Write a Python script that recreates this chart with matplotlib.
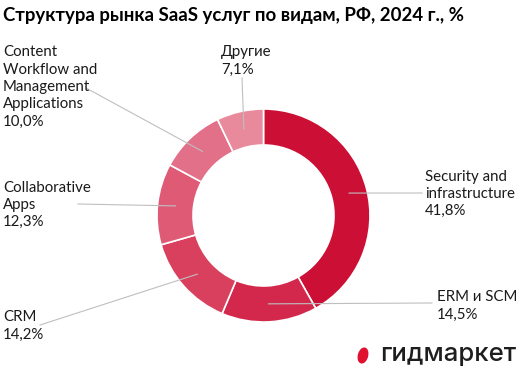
import matplotlib.pyplot as plt
import numpy as np
from matplotlib.patches import Ellipse

# Data
labels = ["Security and\ninfrastructure", "ERM и SCM", "CRM", "Collaborative\nApps",
          "Content\nWorkflow and\nManagement\nApplications", "Другие"]
values = [41.8, 14.5, 14.2, 12.3, 10.0, 7.1]
colors = ["#CC0F35", "#D3284B", "#D9405E", "#DE5A75", "#E37089", "#E98A9C"]

# label block anchor (left x, centre y) in pixel coords, y from top
label_pos = [(425, 194), (437, 306), (3, 326), (3, 205), (3, 87), (221, 61)]
# where each leader line ends
leader_end = [(422, 193), (432, 303), (40, 325), (78, 204), (86, 88), (242, 78)]

W, H = 520, 366
fig = plt.figure(figsize=(W / 100, H / 100), dpi=100)
ax = fig.add_axes([0, 0, 1, 1])

cx, cy, R = 263.5, H - 215.5, 106.5
ring = 36
ax.pie(values, colors=colors, startangle=90, counterclock=False,
       center=(cx, cy), radius=R, frame=True,
       wedgeprops=dict(width=ring, edgecolor="white", linewidth=1.2))
ax.set_xlim(0, W)
ax.set_ylim(0, H)
ax.set_aspect("equal")
ax.axis("off")

font = "Lato"
total = sum(values)
cum = 0
rm = R - ring / 2
for lab, v, (lx, ly), (ex, ey) in zip(labels, values, label_pos, leader_end):
    mid = np.deg2rad(90 - (cum + v / 2) / total * 360)
    cum += v
    sx, sy = cx + rm * np.cos(mid), cy + rm * np.sin(mid)
    ax.plot([sx, ex], [sy, H - ey], color="#BFBFBF", lw=0.8, zorder=3)
    txt = lab + "\n" + f"{v:.1f}".replace(".", ",") + "%"
    ax.text(lx, H - ly, txt, ha="left", va="center", fontsize=10.8,
            family=font, color="#1A1A1A", linespacing=1.3)

ax.text(3, H - 16, "Структура рынка SaaS услуг по видам, РФ, 2024 г., %",
        ha="left", va="center", fontsize=13.4, fontweight="bold",
        family=font, color="#000000")

# logo
ax.add_patch(Ellipse((363, H - 355.5), 9, 15, angle=-15, color="#E0102F"))
ax.text(380, H - 355, "гидмаркет", ha="left", va="center", fontsize=18.5,
        family="Inter", fontweight="medium", color="#1E1E1E")

fig.savefig("out.png", dpi=100)
